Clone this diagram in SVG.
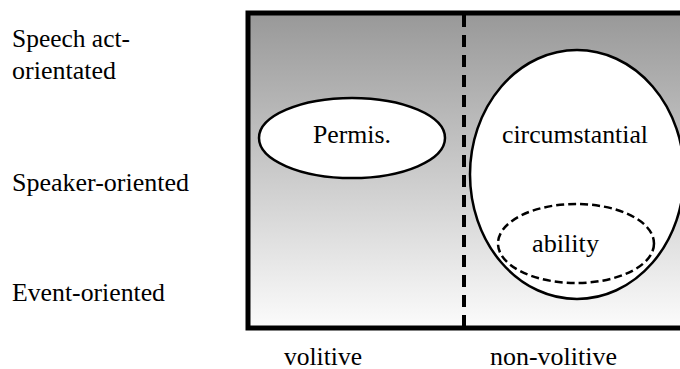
<svg xmlns="http://www.w3.org/2000/svg" width="680" height="369" viewBox="0 0 680 369">
  <style>
    text { font-family: "Liberation Serif", "Times New Roman", Times, serif; font-size: 25px; fill: #000; }
    .node { fill: #fff; stroke: #000; stroke-width: 2.5; }
    .dashed { stroke-dasharray: 8 4; }
  </style>
  <defs>
    <linearGradient id="bg" x1="0" y1="15" x2="0" y2="326" gradientUnits="userSpaceOnUse">
      <stop offset="0" stop-color="#999999"/>
      <stop offset="1" stop-color="#fbfbfb"/>
    </linearGradient>
  </defs>
  <rect width="680" height="369" fill="#fff"/>

  <g id="frame">
    <rect x="248" y="13" width="450" height="315" fill="url(#bg)" stroke="#000" stroke-width="5"/>
  </g>

  <g id="connectors">
    <line x1="464" y1="15" x2="464" y2="326" stroke="#000" stroke-width="4" stroke-dasharray="12 8"/>
  </g>

  <g id="axis-labels">
    <text x="12" y="47" textLength="118" lengthAdjust="spacingAndGlyphs">Speech act-</text>
    <text x="12" y="79" textLength="104" lengthAdjust="spacingAndGlyphs">orientated</text>
    <text x="12" y="191" textLength="177" lengthAdjust="spacingAndGlyphs">Speaker-oriented</text>
    <text x="12" y="301" textLength="153" lengthAdjust="spacingAndGlyphs">Event-oriented</text>
    <text x="284" y="365" textLength="78" lengthAdjust="spacingAndGlyphs">volitive</text>
    <text x="490" y="365" textLength="127" lengthAdjust="spacingAndGlyphs">non-volitive</text>
  </g>

  <g id="permis">
    <ellipse class="node" cx="352" cy="138" rx="93" ry="40"/>
    <text x="313" y="143" textLength="78" lengthAdjust="spacingAndGlyphs">Permis.</text>
  </g>

  <g id="circumstantial">
    <ellipse class="node" cx="577" cy="174.5" rx="107" ry="124.5"/>
    <text x="502" y="143" textLength="146" lengthAdjust="spacingAndGlyphs">circumstantial</text>
  </g>

  <g id="ability">
    <ellipse class="node dashed" cx="576" cy="243.5" rx="78" ry="39.5"/>
    <text x="532" y="252" textLength="67" lengthAdjust="spacingAndGlyphs">ability</text>
  </g>
</svg>
